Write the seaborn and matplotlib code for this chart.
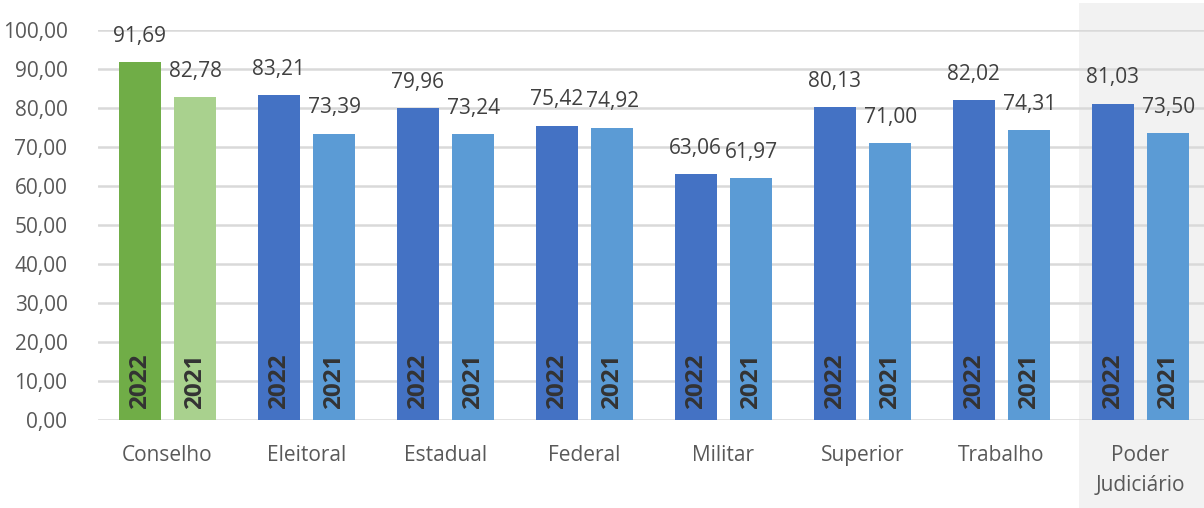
import matplotlib
matplotlib.use("Agg")
import matplotlib.pyplot as plt
import matplotlib.transforms as mtransforms
from matplotlib.patches import Rectangle
import pandas as pd
import seaborn as sns

# valores
categorias = ["Conselho", "Eleitoral", "Estadual", "Federal", "Militar",
              "Superior", "Trabalho", "Poder\nJudiciário"]
anos = ["2022", "2021"]
valores_2022 = [91.69, 83.21, 79.96, 75.42, 63.06, 80.13, 82.02, 81.03]
valores_2021 = [82.78, 73.39, 73.24, 74.92, 61.97, 71.00, 74.31, 73.50]
y_ticks = [0, 10, 20, 30, 40, 50, 60, 70, 80, 90, 100]

cor_azul = {"2022": "#4472C4", "2021": "#5B9BD5"}
cor_verde = {"2022": "#70AD47", "2021": "#A9D18E"}
cinza_texto = "#595959"

df = pd.DataFrame({
    "categoria": categorias * 2,
    "ano": ["2022"] * len(categorias) + ["2021"] * len(categorias),
    "valor": valores_2022 + valores_2021,
})

sns.set_style("white")
plt.rcParams["font.family"] = ["Open Sans", "DejaVu Sans"]

fig = plt.figure(figsize=(12.04, 5.08), dpi=100)
ax = fig.add_axes([98 / 1204, 88 / 508, 1 - 98 / 1204, 390 / 508])

sns.barplot(data=df, x="categoria", y="valor", hue="ano", hue_order=anos,
            order=categorias, palette=cor_azul, width=0.8, gap=0.245,
            saturation=1, legend=False, ax=ax)

# primeiro grupo (Conselho) em verde
for cont, ano in zip(ax.containers, anos):
    cont[0].set_facecolor(cor_verde[ano])
    for barra in cont:
        barra.set_edgecolor("none")

# rotulos de valor e ano
for cont, ano in zip(ax.containers, anos):
    for barra in cont:
        x = barra.get_x() + barra.get_width() / 2
        h = barra.get_height()
        ax.annotate(f"{h:.2f}".replace(".", ","), (x, h), xytext=(0, 26),
                    textcoords="offset pixels", ha="center", va="center",
                    fontsize=15, color="#404040")
        ax.text(x, 2.8, ano, rotation=90, ha="center", va="bottom",
                fontsize=17.5, fontweight="bold", color="#333333")

# fundo cinza do Poder Judiciario
trans = mtransforms.blended_transform_factory(ax.transData, fig.transFigure)
ax.add_patch(Rectangle((len(categorias) - 1.443, 0), 2, 505 / 508,
                       transform=trans, facecolor="#F2F2F2", edgecolor="none",
                       clip_on=False, zorder=0))

ax.set_xlim(-0.5, len(categorias) - 0.543)
ax.set_ylim(0, 100)
ax.set_yticks(y_ticks)
ax.set_yticklabels([f"{t:.2f}".replace(".", ",") for t in y_ticks])
ax.set_xlabel("")
ax.set_ylabel("")
ax.set_facecolor("none")
ax.set_axisbelow(True)
ax.yaxis.grid(True, color="#D9D9D9", linewidth=1.8)
ax.xaxis.grid(False)
for s in ["top", "right", "left", "bottom"]:
    ax.spines[s].set_visible(False)
ax.tick_params(axis="y", length=0, pad=22, labelsize=15, labelcolor=cinza_texto)
ax.tick_params(axis="x", length=0, pad=18, labelsize=15, labelcolor=cinza_texto)
for lbl in ax.get_xticklabels():
    lbl.set_linespacing(1.55)

fig.savefig("out.png", dpi=100)
